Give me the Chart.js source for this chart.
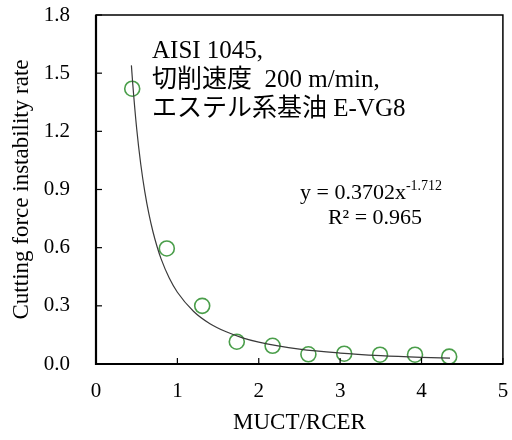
<!DOCTYPE html>
<html>
<head>
<meta charset="utf-8">
<script src="https://cdn.jsdelivr.net/npm/chart.js@4/dist/chart.umd.min.js"></script>
<style>
  html, body { margin: 0; padding: 0; background: #ffffff; overflow: hidden; }
  #wrap { width: 512px; height: 440px; }
  #c { display: block; }
</style>
</head>
<body>
<div id="wrap"><canvas id="c" width="512" height="440"></canvas></div>
<script>
// ---- data ----
const mucTRatio = [0.445, 0.87, 1.305, 1.73, 2.17, 2.61, 3.05, 3.49, 3.92, 4.34];
const instabilityRate = [1.42, 0.596, 0.30, 0.115, 0.094, 0.05, 0.053, 0.048, 0.048, 0.038];
// power-law trend line
const trendX = [0.435, 0.45, 0.5, 0.55, 0.6, 0.65, 0.7, 0.75, 0.8, 0.9, 1.0, 1.2, 1.4, 1.6, 1.8, 2.0, 2.5, 3.0, 3.5, 4.0, 4.35];
const trendY = [1.54, 1.453, 1.213, 1.03, 0.888, 0.774, 0.682, 0.606, 0.542, 0.443, 0.37, 0.271, 0.208, 0.166, 0.135, 0.113, 0.077, 0.0565, 0.0433, 0.0345, 0.03];
const xTickLabels = ['0', '1', '2', '3', '4', '5'];
const yTickLabels = ['0.0', '0.3', '0.6', '0.9', '1.2', '1.5', '1.8'];
const annotationLines = ['AISI 1045,', '切削速度  200 m/min,', 'エステル系基油 E-VG8'];
const equationMain = 'y = 0.3702x';
const equationExp = '-1.712';
const rSquared = 'R² = 0.965';

const SERIF = "'Liberation Serif', 'Times New Roman', 'Noto Sans CJK JP', serif";

const frameAndTicks = {
  id: 'frameAndTicks',
  afterDraw(chart) {
    const ctx = chart.ctx;
    const a = chart.chartArea;
    const xs = chart.scales.x, ys = chart.scales.y;
    ctx.save();
    ctx.strokeStyle = '#000';
    ctx.lineWidth = 1.5;
    ctx.strokeRect(a.left, a.top, a.right - a.left, a.bottom - a.top);
    ctx.lineWidth = 2.2;
    ctx.beginPath();
    ctx.moveTo(a.left, a.top); ctx.lineTo(a.left, a.bottom); ctx.lineTo(a.right, a.bottom);
    ctx.stroke();
    ctx.lineWidth = 1.2;
    ctx.fillStyle = '#000';
    ctx.font = '21px ' + SERIF;
    ctx.textAlign = 'center';
    ctx.textBaseline = 'top';
    xs.ticks.forEach(t => {
      const px = xs.getPixelForValue(t.value);
      ctx.beginPath(); ctx.moveTo(px, a.bottom); ctx.lineTo(px, a.bottom - 6); ctx.stroke();
      ctx.fillText(xTickLabels[Math.round(t.value)], px, a.bottom + 17);
    });
    ys.ticks.forEach(t => {
      const py = ys.getPixelForValue(t.value);
      ctx.beginPath(); ctx.moveTo(a.left, py); ctx.lineTo(a.left + 6, py); ctx.stroke();
    });
    // annotation text
    ctx.textBaseline = 'alphabetic';
    ctx.textAlign = 'left';
    ctx.font = '25px ' + SERIF;
    const ax = 152;
    const ay0 = ys.getPixelForValue(1.58);
    annotationLines.forEach((line, i) => {
      ctx.fillText(line, ax, ay0 + i * 29);
    });
    // equation
    const ex = 300;
    const ey = ys.getPixelForValue(0.85);
    ctx.font = '22px ' + SERIF;
    const w1 = ctx.measureText(equationMain).width;
    ctx.fillText(equationMain, ex, ey);
    ctx.font = '14px ' + SERIF;
    ctx.fillText(equationExp, ex + w1, ey - 9);
    ctx.font = '22px ' + SERIF;
    ctx.textAlign = 'center';
    ctx.fillText(rSquared, 375, ys.getPixelForValue(0.72));
    ctx.restore();
  }
};

const ch = new Chart(document.getElementById('c'), {
  type: 'scatter',
  data: {
    datasets: [
      {
        label: 'trend',
        type: 'line',
        data: trendX.map((x, i) => ({ x: x, y: trendY[i] })),
        borderColor: '#3a3a3a',
        borderWidth: 1.2,
        pointRadius: 0,
        fill: false,
        cubicInterpolationMode: 'monotone',
        order: 1
      },
      {
        label: 'Cutting force instability rate',
        data: mucTRatio.map((x, i) => ({ x: x, y: instabilityRate[i] })),
        pointStyle: 'circle',
        pointRadius: 7.5,
        pointHoverRadius: 7.5,
        backgroundColor: 'rgba(0,0,0,0)',
        borderColor: '#4a9e4a',
        borderWidth: 1.6,
        clip: false,
        order: 2
      }
    ]
  },
  options: {
    responsive: false,
    animation: false,
    layout: { padding: { top: 15, right: 5, left: 0, bottom: 0 } },
    plugins: { legend: { display: false }, tooltip: { enabled: false } },
    scales: {
      x: {
        type: 'linear', min: 0, max: 5,
        afterFit(s) { s.height = 76; s.paddingLeft = 0; s.paddingRight = 0; },
        grid: { display: false, drawTicks: false },
        border: { display: false },
        ticks: { stepSize: 1, display: false },
        title: {
          display: true, text: 'MUCT/RCER', color: '#000',
          font: { family: SERIF, size: 23 }, padding: { top: 0, bottom: 3 }
        }
      },
      y: {
        type: 'linear', min: 0, max: 1.8,
        afterFit(s) { s.width = 96; s.paddingTop = 0; s.paddingBottom = 0; },
        grid: { display: false, drawTicks: false },
        border: { display: false },
        ticks: {
          stepSize: 0.3, padding: 26, color: '#000',
          font: { family: SERIF, size: 21 },
          callback: (v) => yTickLabels[Math.round(v / 0.3)]
        },
        title: {
          display: true, text: 'Cutting force instability rate', color: '#000',
          font: { family: SERIF, size: 23 }, padding: { top: 8, bottom: 0 }
        }
      }
    }
  },
  plugins: [frameAndTicks]
});
// nudge the right layout padding so that the plot frame ends where the reference's does
for (let i = 0; i < 6; i++) {
  const diff = 507 - ch.chartArea.right;
  if (Math.abs(diff) < 0.5) break;
  ch.options.layout.padding.right -= diff;
  ch.update('none');
}
</script>
</body>
</html>
